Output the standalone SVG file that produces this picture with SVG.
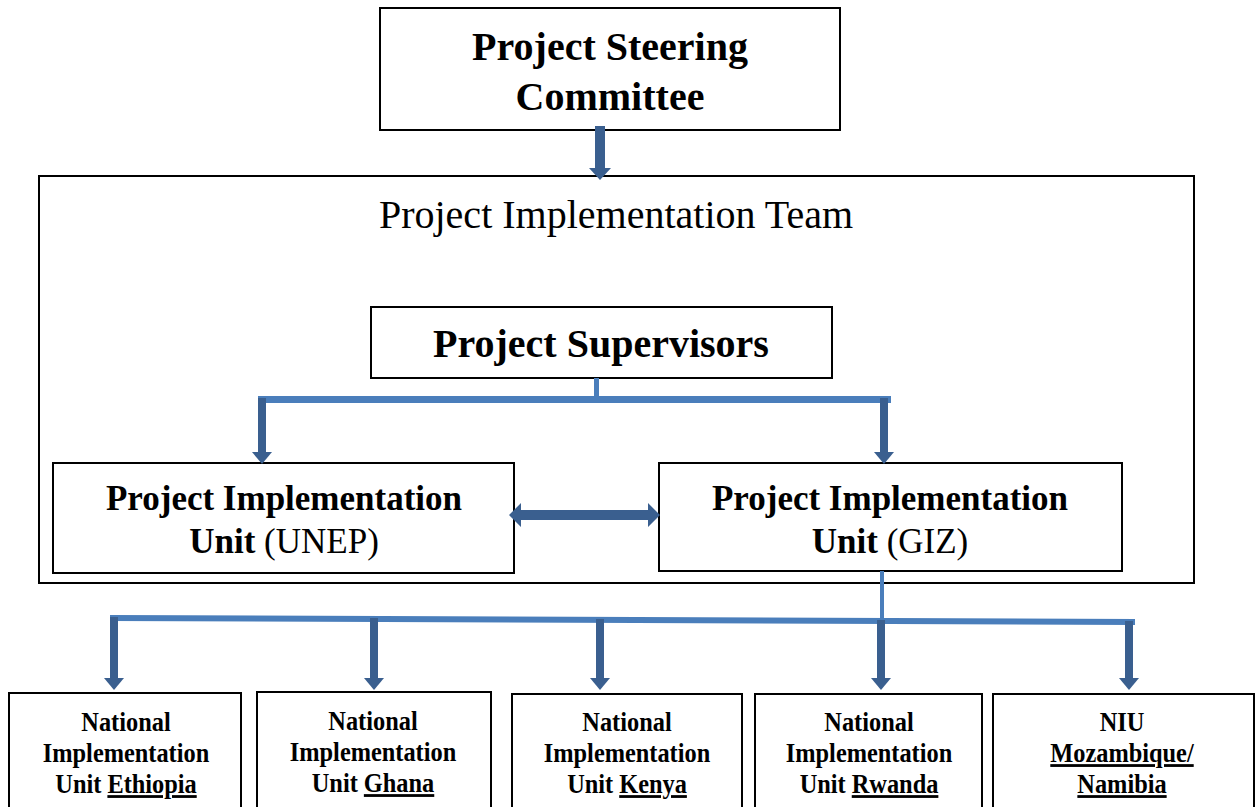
<svg xmlns="http://www.w3.org/2000/svg" width="1259" height="807" viewBox="0 0 1259 807">
  <style>
    .box { fill: #ffffff; stroke: #000000; stroke-width: 2; }
    .t { font-family: "Liberation Serif", "Times New Roman", serif; text-anchor: middle; fill: #000000; }
    .b { font-weight: bold; }
    .big { font-size: 40px; }
    .mid { font-size: 35px; }
    .sm { font-size: 28px; }
    .u { text-decoration: underline; }
    .bar { fill: #4a7ebb; }
    .shaft { fill: #3a5f8f; }
  </style>

  <rect width="1259" height="807" fill="#ffffff"/>

  <!-- outer team frame -->
  <g id="team">
    <rect class="box" x="39" y="176" width="1155" height="407"/>
    <text class="t" x="616" y="228" font-size="40">Project Implementation Team</text>
  </g>

  <g id="steering">
    <rect class="box" x="380" y="8" width="460" height="122"/>
    <text class="t b big" x="610" y="60">Project Steering</text>
    <text class="t b big" x="610" y="110">Committee</text>
  </g>

  <g id="supervisors">
    <rect class="box" x="371" y="307" width="461" height="71"/>
    <text class="t b big" x="601" y="357">Project Supervisors</text>
  </g>

  <g id="piu-unep">
    <rect class="box" x="53" y="463" width="461" height="110"/>
    <text class="t b mid" x="284" y="510">Project Implementation</text>
    <text class="t mid" x="284" y="553"><tspan font-weight="bold">Unit</tspan> (UNEP)</text>
  </g>

  <g id="piu-giz">
    <rect class="box" x="659" y="463" width="463" height="108"/>
    <text class="t b mid" x="890" y="510">Project Implementation</text>
    <text class="t mid" x="890" y="553"><tspan font-weight="bold">Unit</tspan> (GIZ)</text>
  </g>

  <!-- national units: narrow bold labels, squeezed horizontally -->
  <g id="niu-ethiopia">
    <rect class="box" x="9" y="693" width="232" height="120"/>
    <g transform="translate(126,0) scale(0.87,1)">
      <text class="t b sm" x="0" y="731">National</text>
      <text class="t b sm" x="0" y="762">Implementation</text>
      <text class="t b sm" x="0" y="793">Unit <tspan class="u">Ethiopia</tspan></text>
    </g>
  </g>

  <g id="niu-ghana">
    <rect class="box" x="257" y="692" width="234" height="120"/>
    <g transform="translate(373,0) scale(0.87,1)">
      <text class="t b sm" x="0" y="730">National</text>
      <text class="t b sm" x="0" y="761">Implementation</text>
      <text class="t b sm" x="0" y="792">Unit <tspan class="u">Ghana</tspan></text>
    </g>
  </g>

  <g id="niu-kenya">
    <rect class="box" x="512" y="694" width="230" height="120"/>
    <g transform="translate(627,0) scale(0.87,1)">
      <text class="t b sm" x="0" y="731">National</text>
      <text class="t b sm" x="0" y="762">Implementation</text>
      <text class="t b sm" x="0" y="793">Unit <tspan class="u">Kenya</tspan></text>
    </g>
  </g>

  <g id="niu-rwanda">
    <rect class="box" x="755" y="694" width="227" height="120"/>
    <g transform="translate(869,0) scale(0.87,1)">
      <text class="t b sm" x="0" y="731">National</text>
      <text class="t b sm" x="0" y="762">Implementation</text>
      <text class="t b sm" x="0" y="793">Unit <tspan class="u">Rwanda</tspan></text>
    </g>
  </g>

  <g id="niu-mozambique-namibia">
    <rect class="box" x="993" y="694" width="261" height="120"/>
    <g transform="translate(1122,0) scale(0.87,1)">
      <text class="t b sm" x="0" y="731">NIU</text>
      <text class="t b sm u" x="0" y="762">Mozambique/</text>
      <text class="t b sm u" x="0" y="793">Namibia</text>
    </g>
  </g>

  <g id="connectors">
    <!-- steering committee to team -->
    <rect class="shaft" x="595" y="126" width="10" height="44"/>
    <path d="M589,168 L611,168 L600,180 Z" fill="#3a5f8f"/>

    <!-- supervisors to the two implementation units -->
    <rect class="bar" x="594" y="378" width="5" height="20"/>
    <rect class="bar" x="258" y="396" width="633" height="7"/>
    <rect class="shaft" x="258" y="398" width="8" height="56"/>
    <path d="M252,452 L272,452 L262,464 Z" fill="#3a5f8f"/>
    <rect class="shaft" x="880" y="398" width="8" height="56"/>
    <path d="M874,452 L894,452 L884,464 Z" fill="#3a5f8f"/>

    <!-- two-way link between the units -->
    <path d="M509,515 L521,503 L521,510 L648,510 L648,503 L660,515 L648,527 L648,520 L521,520 L521,527 Z" fill="#3a5f8f"/>

    <!-- GIZ unit to national units -->
    <rect class="bar" x="880" y="571" width="4" height="47"/>
    <path d="M110,615 L1135,619 L1135,625 L110,621 Z" fill="#4a7ebb"/>
    <rect class="shaft" x="110" y="617" width="8" height="63"/>
    <path d="M104,678 L124,678 L114,690 Z" fill="#3a5f8f"/>
    <rect class="shaft" x="370" y="618" width="8" height="62"/>
    <path d="M364,678 L384,678 L374,690 Z" fill="#3a5f8f"/>
    <rect class="shaft" x="596" y="619" width="8" height="61"/>
    <path d="M590,678 L610,678 L600,690 Z" fill="#3a5f8f"/>
    <rect class="shaft" x="877" y="620" width="8" height="60"/>
    <path d="M871,678 L891,678 L881,690 Z" fill="#3a5f8f"/>
    <rect class="shaft" x="1125" y="621" width="8" height="59"/>
    <path d="M1119,678 L1139,678 L1129,690 Z" fill="#3a5f8f"/>
  </g>
</svg>
